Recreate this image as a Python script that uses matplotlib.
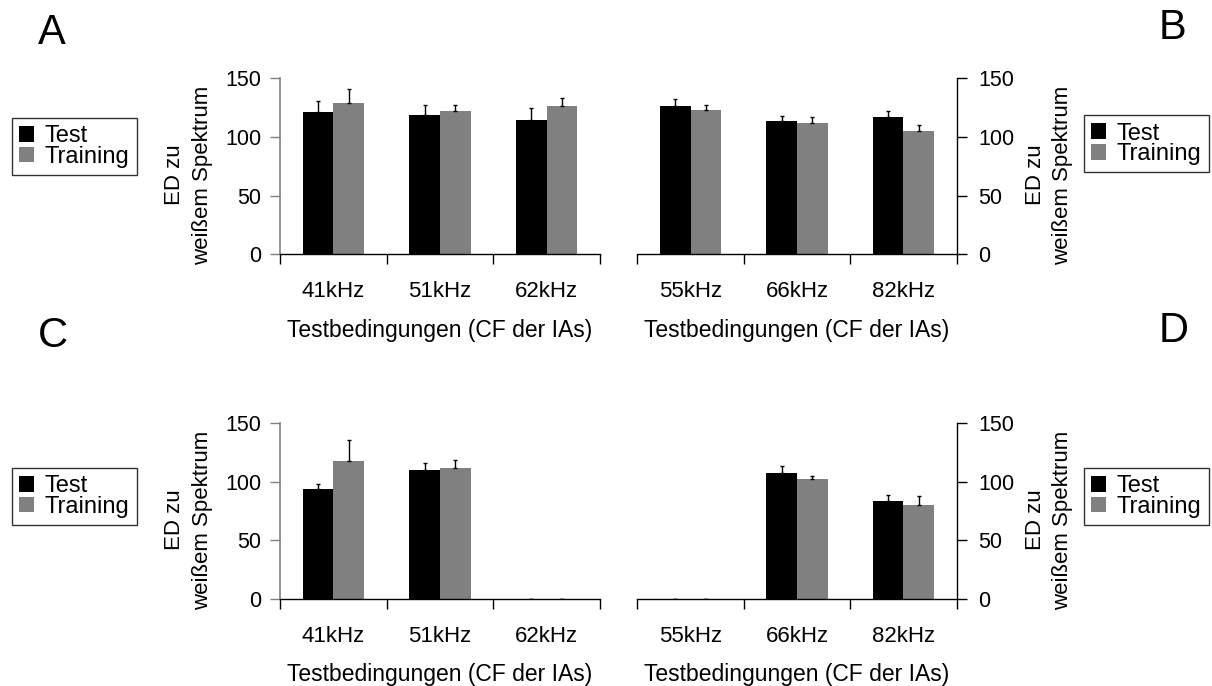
import matplotlib
matplotlib.use("Agg")
import matplotlib.pyplot as plt
from matplotlib.patches import Patch

plt.rcParams['font.family'] = ['Liberation Sans', 'DejaVu Sans']

W, H = 1212, 686

series_names = ["Test", "Training"]
colors = ["#000000", "#808080"]

cats_left = ["41kHz", "51kHz", "62kHz"]
cats_right = ["55kHz", "66kHz", "82kHz"]

# Panel A
A_test = [121.3, 118.5, 114.5]
A_test_err = [9.7, 9.1, 10.5]
A_train = [129.0, 122.2, 126.4]
A_train_err = [11.7, 5.4, 6.6]
# Panel B
B_test = [126.2, 113.4, 117.0]
B_test_err = [6.5, 4.8, 4.9]
B_train = [122.8, 111.9, 104.9]
B_train_err = [4.8, 5.1, 5.3]
# Panel C
C_test = [93.7, 109.9, 0.0]
C_test_err = [4.3, 6.5, 0.0]
C_train = [117.8, 111.9, 0.0]
C_train_err = [17.7, 6.5, 0.0]
# Panel D
D_test = [0.0, 107.6, 83.4]
D_test_err = [0.0, 6.0, 5.7]
D_train = [0.0, 102.5, 80.3]
D_train_err = [0.0, 2.8, 7.9]

yticks = [0, 50, 100, 150]
xlabel = "Testbedingungen (CF der IAs)"
ylabel = "ED zu\nweißem Spektrum"

fig = plt.figure(figsize=(W / 100, H / 100), dpi=100)


def add_ax(x0, x1, ytop, ybot):
    return fig.add_axes([x0 / W, 1 - ybot / H, (x1 - x0) / W, (ybot - ytop) / H])


def draw(ax, cats, test, test_err, train, train_err, side):
    n = len(cats)
    xs = list(range(n))
    bw = 0.288
    xt = [x - bw / 2 for x in xs]
    xr = [x + bw / 2 for x in xs]
    ax.bar(xt, test, width=bw, color=colors[0], edgecolor='none')
    ax.bar(xr, train, width=bw, color=colors[1], edgecolor='none')
    ax.errorbar(xt, test, yerr=[[0] * n, test_err], fmt='none', ecolor='black',
                elinewidth=1, capsize=1.6, capthick=1)
    ax.errorbar(xr, train, yerr=[[0] * n, train_err], fmt='none', ecolor='black',
                elinewidth=1, capsize=1.6, capthick=1)
    ax.set_xlim(-0.5, n - 0.5)
    ax.set_ylim(0, 150)
    ax.set_xticks([i - 0.5 for i in range(n + 1)])
    ax.set_xticklabels([])
    ax.set_xticks(xs, minor=True)
    ax.set_xticklabels(cats, minor=True, fontsize=16)
    ax.tick_params(axis='x', which='major', direction='out', length=7.5, width=1, color='black')
    ax.tick_params(axis='x', which='minor', length=0, pad=19.5)
    ax.set_yticks(yticks)
    ax.spines['top'].set_visible(False)
    ax.spines['bottom'].set_color('black')
    ax.spines['bottom'].set_linewidth(1)
    if side == 'left':
        ax.spines['right'].set_visible(False)
        ax.spines['left'].set_color('#808080')
        ax.spines['left'].set_linewidth(1.2)
        ax.yaxis.set_ticks_position('left')
        ax.tick_params(axis='y', direction='out', length=7.5, width=1, color='#808080',
                       labelsize=15.5, pad=6)
    else:
        ax.spines['left'].set_visible(False)
        ax.spines['right'].set_color('black')
        ax.spines['right'].set_linewidth(1)
        ax.yaxis.set_ticks_position('right')
        ax.tick_params(axis='y', direction='out', length=7.5, width=1, color='black',
                       labelsize=15.5, pad=8)
    ax.spines['bottom'].set_zorder(5)


axA = add_ax(280, 600, 78.3, 254.3)
axB = add_ax(637.3, 956.7, 78.3, 254.3)
axC = add_ax(280, 600, 423.3, 599)
axD = add_ax(637.3, 956.7, 423.3, 599)

draw(axA, cats_left, A_test, A_test_err, A_train, A_train_err, 'left')
draw(axB, cats_right, B_test, B_test_err, B_train, B_train_err, 'right')
draw(axC, cats_left, C_test, C_test_err, C_train, C_train_err, 'left')
draw(axD, cats_right, D_test, D_test_err, D_train, D_train_err, 'right')

# axis titles
for cx, cy in [(440, 330), (797, 330), (440, 675), (797, 675)]:
    fig.text(cx / W, 1 - cy / H, xlabel, ha='center', va='center', fontsize=16.5)

# y labels
for cx, cy in [(188.5, 175), (1049, 175), (188.5, 520), (1049, 520)]:
    fig.text(cx / W, 1 - cy / H, ylabel, ha='center', va='center', rotation=90,
             fontsize=16, linespacing=1.4, multialignment='center')

# panel letters
for letter, cx, cy in [("A", 52, 33), ("B", 1173, 28), ("C", 53, 336), ("D", 1174, 331)]:
    fig.text(cx / W, 1 - cy / H, letter, ha='center', va='center', fontsize=30)

# legends
handles = [Patch(facecolor=colors[0], edgecolor='none'),
           Patch(facecolor=colors[1], edgecolor='none')]
for lx, ly in [(12.0, 118), (1084, 115.5), (12.0, 468), (1084, 468)]:
    leg = fig.legend(handles, series_names, loc='upper left',
                     bbox_to_anchor=(lx / W, 1 - ly / H), borderaxespad=0,
                     fontsize=17, frameon=True, fancybox=False, edgecolor='black',
                     handlelength=0.64, handleheight=0.64, handletextpad=0.45,
                     labelspacing=-0.05, borderpad=0.3)
    leg.get_frame().set_linewidth(1)

fig.savefig("out.png", dpi=100)
